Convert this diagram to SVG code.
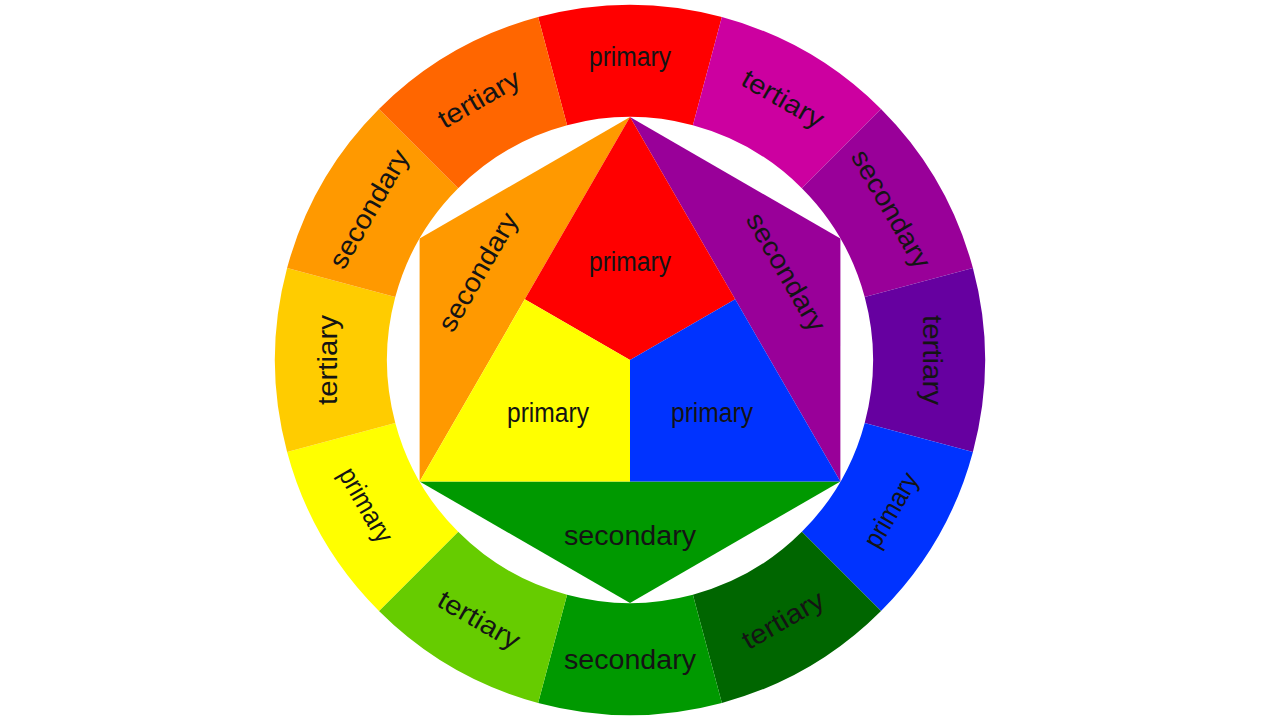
<svg xmlns="http://www.w3.org/2000/svg" width="1280" height="720" viewBox="0 0 1280 720">
<style>
text{font-family:"Liberation Sans",Arial,sans-serif;font-size:27px;fill:#141414;text-anchor:middle;dominant-baseline:central}
.red{fill:#FF0000}.mag{fill:#CC00A0}.pur{fill:#990099}.vio{fill:#6600A0}.blu{fill:#0033FF}.dgr{fill:#006600}
.grn{fill:#009900}.lgr{fill:#66CC00}.yel{fill:#FFFF00}.yor{fill:#FFCC00}.ora{fill:#FF9900}.ror{fill:#FF6600}
</style>
<rect width="1280" height="720" fill="#ffffff"/>
<g id="ring">
<g id="ring-red"><path class="red" d="M538.12,17.1 A355,355 0 0 1 721.88,17.1 L692.89,125.28 A243,243 0 0 0 567.11,125.28 Z"/><text x="630" y="57" textLength="82" lengthAdjust="spacingAndGlyphs">primary</text></g>
<g id="ring-magenta"><path class="mag" d="M721.88,17.1 A355,355 0 0 1 881.02,108.98 L801.83,188.17 A243,243 0 0 0 692.89,125.28 Z"/><text transform="translate(783,99) rotate(30)" textLength="90" lengthAdjust="spacingAndGlyphs">tertiary</text></g>
<g id="ring-purple"><path class="pur" d="M881.02,108.98 A355,355 0 0 1 972.9,268.12 L864.72,297.11 A243,243 0 0 0 801.83,188.17 Z"/><text transform="translate(891,209) rotate(60)" textLength="132" lengthAdjust="spacingAndGlyphs">secondary</text></g>
<g id="ring-violet"><path class="vio" d="M972.9,268.12 A355,355 0 0 1 972.9,451.88 L864.72,422.89 A243,243 0 0 0 864.72,297.11 Z"/><text transform="translate(932,360) rotate(90)" textLength="90" lengthAdjust="spacingAndGlyphs">tertiary</text></g>
<g id="ring-blue"><path class="blu" d="M972.9,451.88 A355,355 0 0 1 881.02,611.02 L801.83,531.83 A243,243 0 0 0 864.72,422.89 Z"/><text transform="translate(891,510) rotate(-60)" textLength="82" lengthAdjust="spacingAndGlyphs">primary</text></g>
<g id="ring-darkgreen"><path class="dgr" d="M881.02,611.02 A355,355 0 0 1 721.88,702.9 L692.89,594.72 A243,243 0 0 0 801.83,531.83 Z"/><text transform="translate(783,620) rotate(-30)" textLength="90" lengthAdjust="spacingAndGlyphs">tertiary</text></g>
<g id="ring-green"><path class="grn" d="M721.88,702.9 A355,355 0 0 1 538.12,702.9 L567.11,594.72 A243,243 0 0 0 692.89,594.72 Z"/><text x="630" y="660" textLength="132" lengthAdjust="spacingAndGlyphs">secondary</text></g>
<g id="ring-lightgreen"><path class="lgr" d="M538.12,702.9 A355,355 0 0 1 378.98,611.02 L458.17,531.83 A243,243 0 0 0 567.11,594.72 Z"/><text transform="translate(479,620) rotate(30)" textLength="90" lengthAdjust="spacingAndGlyphs">tertiary</text></g>
<g id="ring-yellow"><path class="yel" d="M378.98,611.02 A355,355 0 0 1 287.1,451.88 L395.28,422.89 A243,243 0 0 0 458.17,531.83 Z"/><text transform="translate(366,505) rotate(60)" textLength="82" lengthAdjust="spacingAndGlyphs">primary</text></g>
<g id="ring-yelloworange"><path class="yor" d="M287.1,451.88 A355,355 0 0 1 287.1,268.12 L395.28,297.11 A243,243 0 0 0 395.28,422.89 Z"/><text transform="translate(328,360) rotate(-90)" textLength="90" lengthAdjust="spacingAndGlyphs">tertiary</text></g>
<g id="ring-orange"><path class="ora" d="M287.1,268.12 A355,355 0 0 1 378.98,108.98 L458.17,188.17 A243,243 0 0 0 395.28,297.11 Z"/><text transform="translate(369,209) rotate(-60)" textLength="132" lengthAdjust="spacingAndGlyphs">secondary</text></g>
<g id="ring-redorange"><path class="ror" d="M378.98,108.98 A355,355 0 0 1 538.12,17.1 L567.11,125.28 A243,243 0 0 0 458.17,188.17 Z"/><text transform="translate(479,99) rotate(-30)" textLength="90" lengthAdjust="spacingAndGlyphs">tertiary</text></g>
</g>
<g id="inner">
<g id="inner-orange"><polygon class="ora" points="630,117 419.6,238.5 419.6,481.5"/><text transform="translate(478,272) rotate(-60)" textLength="132" lengthAdjust="spacingAndGlyphs">secondary</text></g>
<g id="inner-purple"><polygon class="pur" points="630,117 840.4,238.5 840.4,481.5"/><text transform="translate(786,272) rotate(60)" textLength="132" lengthAdjust="spacingAndGlyphs">secondary</text></g>
<g id="inner-green"><polygon class="grn" points="419.6,481.5 840.4,481.5 630,603"/><text x="630" y="536" textLength="132" lengthAdjust="spacingAndGlyphs">secondary</text></g>
<g id="inner-red"><polygon class="red" points="630,117 524.8,299.25 630,360 735.2,299.25"/><text x="630" y="262" textLength="82" lengthAdjust="spacingAndGlyphs">primary</text></g>
<g id="inner-yellow"><polygon class="yel" points="524.8,299.25 419.6,481.5 630,481.5 630,360"/><text x="548" y="413" textLength="82" lengthAdjust="spacingAndGlyphs">primary</text></g>
<g id="inner-blue"><polygon class="blu" points="735.2,299.25 840.4,481.5 630,481.5 630,360"/><text x="712" y="413" textLength="82" lengthAdjust="spacingAndGlyphs">primary</text></g>
</g>
<g id="connectors"/>
</svg>
